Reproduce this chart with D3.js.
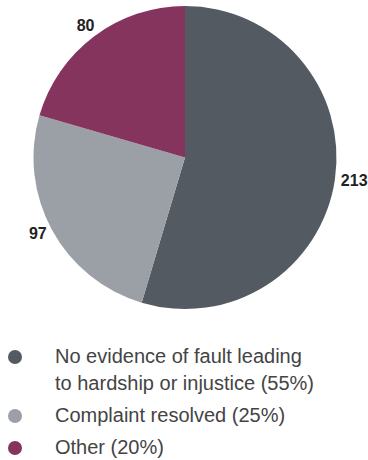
<!DOCTYPE html>
<html>
<head>
<meta charset="utf-8">
<script src="https://cdn.jsdelivr.net/npm/d3@7"></script>
<style>
  html, body { margin: 0; padding: 0; background: #fff; }
  svg { display: block; }
</style>
</head>
<body>
<svg id="chart" width="368" height="460"></svg>
<script>
// Complaint outcomes
const categories = [
  "No evidence of fault leading to hardship or injustice",
  "Complaint resolved",
  "Other"
];
const counts = [213, 97, 80];
const percents = ["55%", "25%", "20%"];
const colors = ["#535a62", "#9b9fa6", "#84345d"];

const svg = d3.select("#chart");
const cx = 185, cy = 157.5, radius = 151.5;

const pie = d3.pie().sort(null).value(d => d)(counts);
const arc = d3.arc().innerRadius(0).outerRadius(radius);

const g = svg.append("g").attr("transform", `translate(${cx},${cy})`);

g.selectAll("path.slice")
  .data(pie)
  .join("path")
  .attr("class", "slice")
  .attr("d", arc)
  .attr("fill", (d, i) => colors[i]);

// value labels just outside each slice, anchored away from the pie
function labelInfo(d) {
  const mid = (d.startAngle + d.endAngle) / 2;
  const s = Math.sin(mid), c = Math.cos(mid);
  const side = Math.abs(s) > 0.7;
  const r = radius + (side ? 6 : 14);
  return {
    x: s * r,
    y: -c * r,
    anchor: side ? (s > 0 ? "start" : "end") : "middle"
  };
}

g.selectAll("text.value")
  .data(pie)
  .join("text")
  .attr("class", "value")
  .attr("x", d => labelInfo(d).x)
  .attr("y", d => labelInfo(d).y)
  .attr("text-anchor", d => labelInfo(d).anchor)
  .attr("dy", "0.35em")
  .attr("font-family", "Liberation Sans, Arial, Helvetica, sans-serif")
  .attr("font-weight", "bold")
  .attr("font-size", 16)
  .attr("fill", "#222")
  .text(d => d.data);

// Legend
const legendLines = [
  ["No evidence of fault leading", "to hardship or injustice (" + percents[0] + ")"],
  [categories[1] + " (" + percents[1] + ")"],
  [categories[2] + " (" + percents[2] + ")"]
];
const rowY = [357, 416, 448];

const legend = svg.append("g");
legendLines.forEach((lines, i) => {
  const row = legend.append("g").attr("transform", `translate(0,${rowY[i]})`);
  row.append("circle")
    .attr("cx", 15).attr("cy", 0).attr("r", 7)
    .attr("fill", colors[i]);
  row.append("text")
    .attr("x", 55).attr("y", 6)
    .attr("font-family", "Liberation Sans, Arial, Helvetica, sans-serif")
    .attr("font-size", 20)
    .attr("fill", "#444")
    .selectAll("tspan")
    .data(lines)
    .join("tspan")
    .attr("x", 55)
    .attr("dy", (d, j) => j === 0 ? 0 : 27)
    .text(d => d);
});
</script>
</body>
</html>
